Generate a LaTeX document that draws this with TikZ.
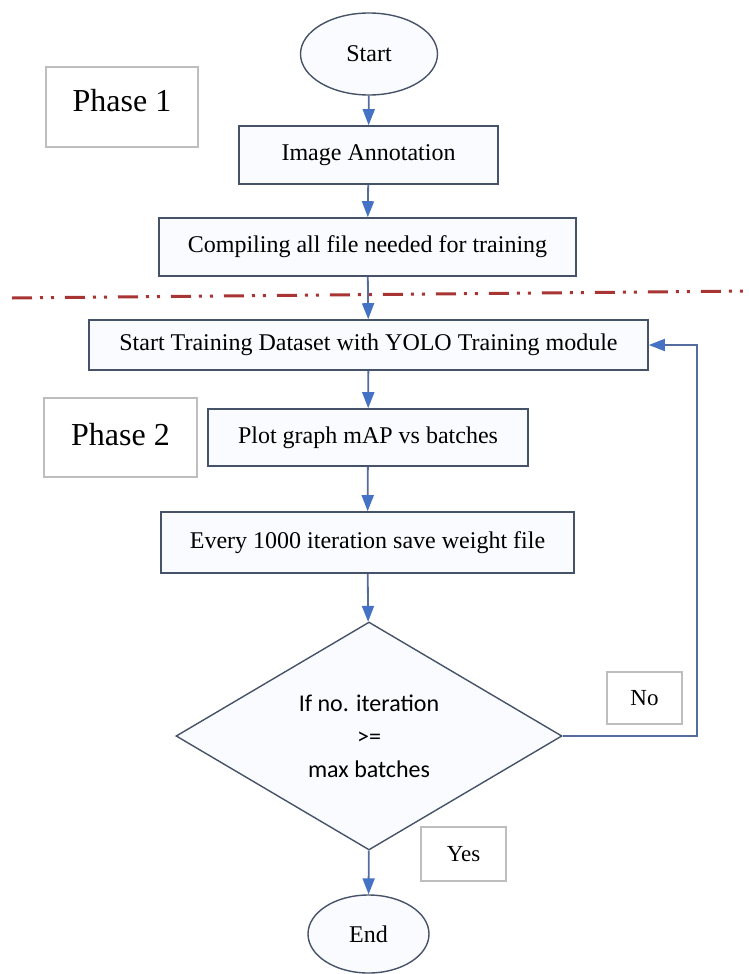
\documentclass[tikz,border=0pt]{standalone}
\usepackage{fontspec}
\setmainfont{Liberation Serif}
\newfontfamily\diafont{Carlito}
\usetikzlibrary{shapes.geometric,arrows.meta}
\definecolor{boxline}{RGB}{70,82,104}
\definecolor{boxfill}{RGB}{250,251,254}
\definecolor{conn}{RGB}{84,108,160}
\definecolor{tipc}{RGB}{68,114,196}
\definecolor{phaseline}{RGB}{190,190,190}
\definecolor{sepred}{RGB}{168,52,52}
\tikzset{
  stepbox/.style={draw=boxline,line width=1.6pt,fill=boxfill,rectangle,inner sep=0pt,align=center,font=\fontsize{24}{28}\selectfont},
  ovalbox/.style={draw=boxline,line width=1.4pt,fill=boxfill,ellipse,inner sep=0pt,font=\fontsize{24}{28}\selectfont},
  phasebox/.style={draw=phaseline,line width=1.2pt,fill=white,rectangle,inner sep=0pt,font=\fontsize{32}{36}\selectfont},
  labbox/.style={draw=phaseline,line width=1.2pt,fill=white,rectangle,inner sep=0pt,font=\fontsize{23}{27}\selectfont},
  decbox/.style={draw=boxline,line width=1.4pt,fill=boxfill,diamond,inner sep=0pt,align=center,font=\diafont\fontsize{24}{33}\selectfont},
  flow/.style={draw=conn,line width=1.8pt,-{Triangle[length=16pt,width=12pt,color=tipc]}},
}
\begin{document}
\begin{tikzpicture}[x=1pt,y=-1pt]
\useasboundingbox (0,0) rectangle (748,974);
% separator
\draw[sepred,line width=3pt,dash pattern=on 20pt off 8pt on 3pt off 8pt on 3pt off 11pt] (12,298) -- (748,291);
\node[ovalbox,minimum width=137pt,minimum height=82pt] (start) at (369,54) {Start};
\node[phasebox,minimum width=152pt,minimum height=80pt] (ph1) at (122,107) {\raisebox{14pt}{Phase 1}};
\node[stepbox,minimum width=259pt,minimum height=58pt] (ann) at (368.5,155) {Image Annotation};
\node[stepbox,minimum width=417pt,minimum height=58pt] (comp) at (367.5,247) {Compiling all file needed for training};
\node[stepbox,minimum width=559pt,minimum height=50pt] (train) at (368.5,345) {Start Training Dataset with YOLO Training module};
\node[phasebox,minimum width=153pt,minimum height=79pt] (ph2) at (120.5,437.5) {\raisebox{7pt}{Phase 2}};
\node[stepbox,minimum width=320pt,minimum height=57pt] (plot) at (368,437.5) {Plot graph mAP vs batches};
\node[stepbox,minimum width=413pt,minimum height=61pt] (every) at (367.5,542.5) {Every 1000 iteration save weight file};
\node[decbox,minimum width=386pt,minimum height=228pt] (dec) at (369,736) {If no. iteration\\\relax >=\\max batches};
\node[labbox,minimum width=75pt,minimum height=52pt] (no) at (644.5,698) {No};
\node[labbox,minimum width=85pt,minimum height=54pt] (yes) at (463.5,854) {Yes};
\node[ovalbox,minimum width=121pt,minimum height=78pt] (end) at (368.5,934) {End};
\coordinate (loop) at (697,736);
\draw[flow] (start) -- (ann);
\draw[flow] (ann) -- (comp);
\draw[flow] (comp) -- (train);
\draw[flow] (train) -- (plot);
\draw[flow] (plot) -- (every);
\draw[flow] (every) -- (dec);
\draw[flow] (dec) -- (end);
\draw[flow] (dec.east) -- (loop) |- (train.east);
\end{tikzpicture}
\end{document}
